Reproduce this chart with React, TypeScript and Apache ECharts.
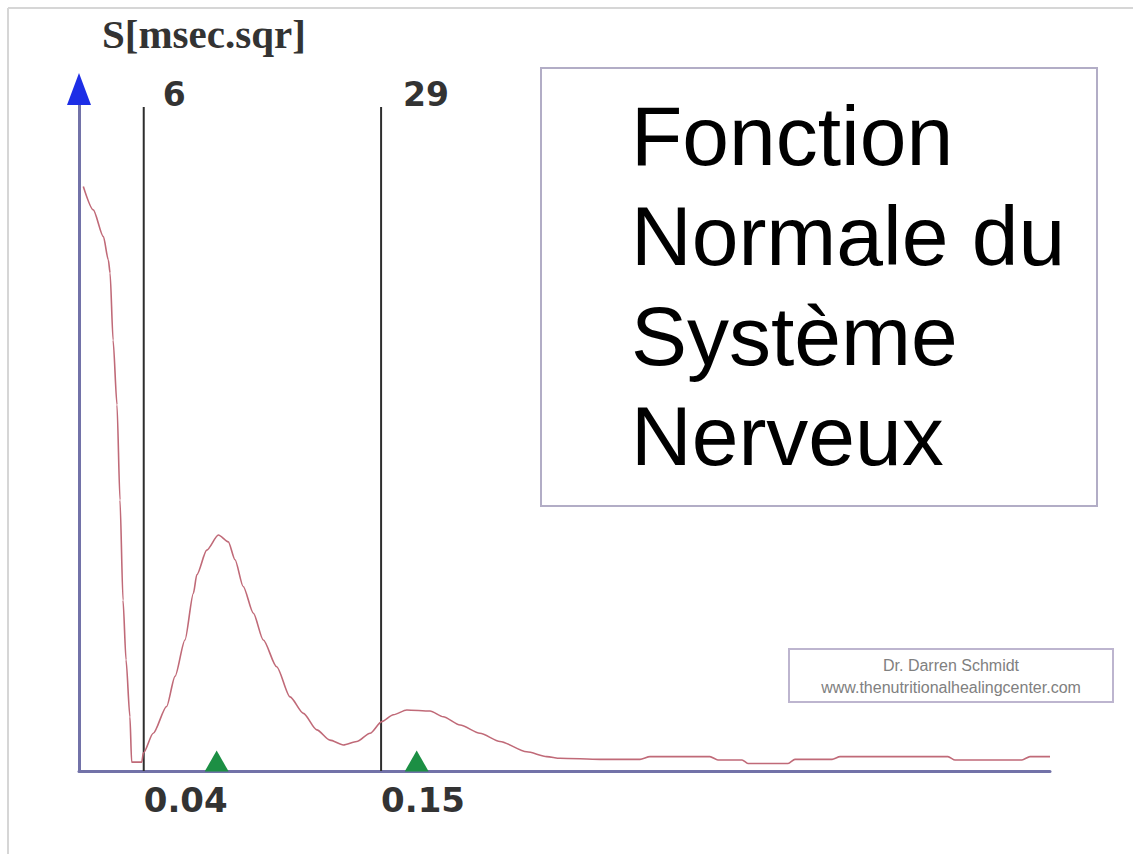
import React, { useEffect, useRef } from "react";
import * as echarts from "echarts";

// Frequency (Hz) of each curve sample
const freq = [
  0.012, 0.0166, 0.0213, 0.0236, 0.0244, 0.0258, 0.0276, 0.029, 0.0304, 0.0318,
  0.0336, 0.0344, 0.0391, 0.0398, 0.0444, 0.0506,
  0.0545, 0.0591, 0.063, 0.0646, 0.0692, 0.0746, 0.0792, 0.0823, 0.0861, 0.0908,
  0.0954, 0.1016, 0.1078, 0.114, 0.1202, 0.1263, 0.1325, 0.1387, 0.1449, 0.1503,
  0.1557, 0.1619, 0.1727, 0.1788, 0.1866, 0.1958, 0.2051, 0.2175, 0.2268, 0.2329,
  0.2515, 0.27, 0.2746, 0.3024, 0.3061, 0.3173, 0.32, 0.3386, 0.3418, 0.359,
  0.3627, 0.4127, 0.416, 0.447, 0.4507, 0.46,
];
// Spectral power S [msec.sqr] (relative units)
const power = [
  85.2, 81.8, 77.9, 74.5, 72.6, 62.8, 53.4, 39.5, 24.9, 16.2,
  7.9, 1.3, 1.3, 2.6, 5.5, 9.4,
  13.8, 19.1, 25.9, 28.6, 32.2, 34.4, 33.4, 30.8, 26.9, 23.0,
  19.1, 15.2, 10.8, 8.4, 6.0, 4.5, 3.8, 4.3, 5.5, 7.2,
  8.2, 8.9, 8.75, 7.9, 6.7, 5.5, 4.3, 2.8, 2.1, 1.85,
  1.7, 1.7, 2.1, 2.1, 1.6, 1.6, 1.1, 1.1, 1.7, 1.7,
  2.1, 2.1, 1.6, 1.6, 2.1, 2.1,
];
const bandEdges = [0.04, 0.15];
const bandPercent = ["6", "29"];
const peakFreqs = [0.0738, 0.1665];
const xTickLabels = [0.04, 0.15];
const xMin = 0.01;
const xMax = 0.46;
const yMax = 100;
const bandLineTop = 96.8;
const yUnit = "S[msec.sqr]";
const titleLines = ["Fonction", "Normale du", "Système", "Nerveux"];
const creditLines = ["Dr. Darren Schmidt", "www.thenutritionalhealingcenter.com"];

export default function App() {
  const ref = useRef<HTMLDivElement>(null);
  useEffect(() => {
    if (!ref.current) return;
    const chart = echarts.init(ref.current, null, { renderer: "svg" });
    const curve = freq.map((f, i) => [f, power[i]]);
    const bandSeries = bandEdges.map((e, i) => ({
      type: "line",
      data: [
        { value: [e, 0], symbolSize: 0 },
        {
          value: [e, bandLineTop],
          symbolSize: 0,
          label: {
            show: true,
            formatter: bandPercent[i],
            position: "right",
            distance: i === 0 ? 19 : 22,
            offset: [0, -12],
            fontFamily: "DejaVu Sans",
            fontWeight: "bold",
            fontSize: 33,
            color: "#333",
          },
        },
      ],
      showSymbol: true,
      symbol: "circle",
      lineStyle: { color: "#2e2e2e", width: 2 },
      z: 3,
      silent: true,
    }));
    const option = {
      animation: false,
      backgroundColor: "#fff",
      grid: { left: 79, right: 83, top: 85, bottom: 83, containLabel: false },
      xAxis: {
        type: "value",
        min: xMin,
        max: xMax,
        splitLine: { show: false },
        axisTick: { show: false },
        axisLine: { show: true, onZero: false, lineStyle: { color: "#7272a8", width: 3 } },
        axisLabel: {
          show: true,
          customValues: xTickLabels,
          formatter: (v: number) => String(v),
          align: "left",
          margin: 12,
          fontFamily: "DejaVu Sans",
          fontWeight: "bold",
          fontSize: 34,
          color: "#333",
        },
      },
      yAxis: {
        type: "value",
        min: 0,
        max: yMax,
        splitLine: { show: false },
        axisTick: { show: false },
        axisLabel: { show: false },
        axisLine: { show: true, onZero: false, lineStyle: { color: "#7272a8", width: 3 } },
      },
      series: [
        {
          type: "line",
          data: curve,
          showSymbol: false,
          smooth: 0.25,
          smoothMonotone: "x",
          lineStyle: { color: "#c06a78", width: 1.6 },
          z: 4,
        },
        ...bandSeries,
        {
          type: "scatter",
          data: peakFreqs.map((p) => [p, 0]),
          symbol: "triangle",
          symbolSize: [24, 21],
          symbolOffset: [0, -10],
          itemStyle: { color: "#1c8f44", opacity: 1 },
          clip: false,
          z: 5,
        },
        {
          type: "scatter",
          data: [[xMin, yMax]],
          symbol: "triangle",
          symbolSize: [24, 32],
          symbolOffset: [0, 4],
          itemStyle: { color: "#1d2ee6", opacity: 1 },
          clip: false,
          z: 6,
        },
      ],
      graphic: [
        { type: "line", shape: { x1: 8, y1: 8, x2: 1133, y2: 8 }, style: { stroke: "#d6d6d6", lineWidth: 2 } },
        { type: "line", shape: { x1: 8, y1: 8, x2: 8, y2: 854 }, style: { stroke: "#d6d6d6", lineWidth: 2 } },
        {
          type: "text",
          left: 102,
          top: 13,
          style: {
            text: yUnit,
            font: "bold 41px 'Liberation Serif'",
            fill: "#333",
          },
        },
        {
          type: "rect",
          shape: { x: 541, y: 68, width: 556, height: 438 },
          style: { fill: "#fff", stroke: "#b2adc6", lineWidth: 2 },
          z: 10,
        },
        ...titleLines.map((t, i) => ({
          type: "text",
          x: 631,
          y: 136 + i * 100,
          style: {
            text: t,
            font: "84px 'Liberation Sans'",
            fill: "#000",
            textVerticalAlign: "middle",
            verticalAlign: "middle",
          },
          z: 11,
        })),
        {
          type: "rect",
          shape: { x: 789, y: 649, width: 324, height: 53 },
          style: { fill: "#fff", stroke: "#bdb5cf", lineWidth: 2 },
          z: 10,
        },
        ...creditLines.map((t, i) => ({
          type: "text",
          x: 951,
          y: 665 + i * 22,
          style: {
            text: t,
            font: "16px 'Liberation Sans'",
            fill: "#808080",
            align: "center",
            textAlign: "center",
            verticalAlign: "middle",
            textVerticalAlign: "middle",
          },
          z: 11,
        })),
      ],
    };
    chart.setOption(option as any);
    return () => chart.dispose();
  }, []);
  return (
    <div
      ref={ref}
      style={{ position: "fixed", left: 0, top: 0, width: 1133, height: 854, background: "#fff" }}
    />
  );
}
